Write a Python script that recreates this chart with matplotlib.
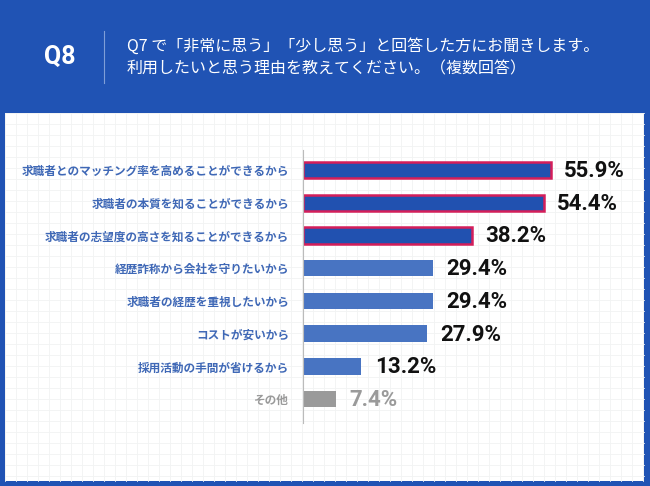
import matplotlib
matplotlib.use("Agg")
import matplotlib.pyplot as plt
from matplotlib.patches import Rectangle

plt.rcParams['font.family'] = ['Noto Sans CJK JP', 'DejaVu Sans']

labels = [
    "求職者とのマッチング率を高めることができるから",
    "求職者の本質を知ることができるから",
    "求職者の志望度の高さを知ることができるから",
    "経歴詐称から会社を守りたいから",
    "求職者の経歴を重視したいから",
    "コストが安いから",
    "採用活動の手間が省けるから",
    "その他",
]
values = [55.9, 54.4, 38.2, 29.4, 29.4, 27.9, 13.2, 7.4]
title_q = "Q8"
title_lines = ["Q7 で「非常に思う」「少し思う」と回答した方にお聞きします。",
               "利用したいと思う理由を教えてください。（複数回答）"]

W, H = 650, 486
BLUE_BG = "#2053B4"
DARK = "#2151B0"
MID = "#4874C2"
GRAY = "#9A9A9A"
RED = "#D41E5A"
LABEL_BLUE = "#3F68B6"

fig = plt.figure(figsize=(W / 100, H / 100), dpi=100)
fig.patch.set_facecolor(BLUE_BG)

# background with panel + grid, pixel coordinates
bg = fig.add_axes([0, 0, 1, 1])
bg.set_xlim(0, W)
bg.set_ylim(H, 0)
bg.axis("off")
bg.add_patch(Rectangle((5, 113), 639, 368, facecolor="white", edgecolor="none"))
for gx in range(5, 644, 11):
    bg.plot([gx, gx], [113, 481], color="#F1F3F3", lw=0.6)
for gy in range(113, 481, 11):
    bg.plot([5, 644], [gy, gy], color="#F1F3F3", lw=0.6)

# header
bg.text(60, 57, title_q, color="white", fontsize=18, fontweight="bold",
        ha="center", va="center", family=["Roboto", "DejaVu Sans"])
bg.plot([104, 104], [31, 83], color="#7F9ED8", lw=0.8)
bg.text(127, 46, title_lines[0], color="white", fontsize=11.5, ha="left", va="center")
bg.text(127, 69, title_lines[1], color="white", fontsize=11.5, ha="left", va="center")

# bar chart
ax = fig.add_axes([303 / W, 1 - 423 / H, 310 / W, 273 / H])
ax.patch.set_alpha(0)
ypos = list(range(len(values)))
for i, v in enumerate(values):
    if i < 3:
        ax.barh(i, v, height=0.5, color=DARK, edgecolor=RED, linewidth=1.8)
    elif labels[i] == "その他":
        ax.barh(i, v, height=0.5, color=GRAY)
    else:
        ax.barh(i, v, height=0.5, color=MID)
    tc = GRAY if labels[i] == "その他" else "#111111"
    ax.text(v + 3.0, i + 0.03, f"{v}%", color=tc, fontsize=16, fontweight="bold",
            ha="left", va="center", family=["Roboto", "DejaVu Sans"])

ax.set_xlim(0, 70)
ax.set_ylim(7.73, -0.61)
ax.set_yticks(ypos)
ax.set_yticklabels(labels)
for t, lab in zip(ax.get_yticklabels(), labels):
    t.set_color(GRAY if lab == "その他" else LABEL_BLUE)
    t.set_fontsize(8.4)
    t.set_fontweight("bold")
ax.tick_params(axis="y", length=0, pad=10)
ax.set_xticks([])
for s in ["top", "right", "bottom"]:
    ax.spines[s].set_visible(False)
ax.spines["left"].set_color("#BBBBBB")
ax.spines["left"].set_linewidth(0.8)

fig.savefig("out.png", dpi=100, facecolor=fig.get_facecolor())
